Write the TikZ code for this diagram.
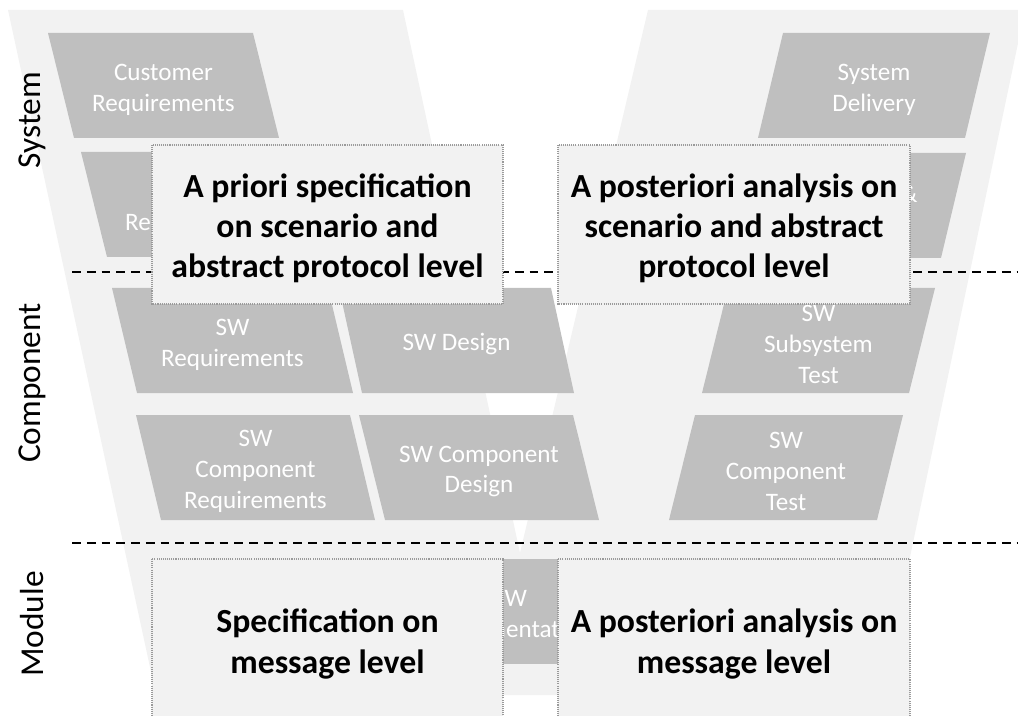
\documentclass[tikz,border=0pt]{standalone}
\usepackage{fontspec}
\setmainfont{Carlito}

\definecolor{vgray}{HTML}{F2F2F2}
\definecolor{boxgray}{HTML}{BFBFBF}
\definecolor{edgegray}{HTML}{9A9A9A}

\tikzset{
  steptext/.style={text=white, font=\fontsize{14.3}{17.6}\selectfont, align=center, inner sep=0pt},
  notebox/.style={fill=vgray, draw=edgegray, line width=0.6pt, dash pattern=on 0.6pt off 0.6pt},
  notetext/.style={font=\fontsize{19.2}{22.8}\selectfont\bfseries, align=center, inner sep=0pt},
  levellabel/.style={font=\fontsize{19}{22}\selectfont, rotate=90, inner sep=0pt},
  levelline/.style={line width=0.6pt, dash pattern=on 5pt off 3.4pt},
}

\begin{document}
\begin{tikzpicture}[x=0.02cm, y=-0.02cm]
    \useasboundingbox (0,0) rectangle (1018,716);
    \clip (0,0) rectangle (1018,716);

    % V background
    \fill[vgray] (8,10) -- (403,10) -- (520,553) -- (648,10) -- (1025,10)
        -- (881,695) -- (156,695) -- cycle;

    % Process steps
    \foreach \x/\y/\w/\s/\n/\t in {
        48/33/205/26/custreq/{Customer\\Requirements},
        81/152/205/26/sysreq/{System\\Requirements},
        112/288/216/25/swreq/{SW\\Requirements},
        339/288/212/23/swdes/{SW Design},
        136/415/214/25/compreq/{SW\\Component\\Requirements},
        359/415/214/26/compdes/{SW Component\\Design},
        410/559/200/0/impl/{SW\\Implementation},
        783/33/207/-25/sysdel/{System\\Delivery},
        759/153/207/-25/sysint/{Integration \&\\Test},
        728/288/207/-26/subtest/{SW\\Subsystem\\Test},
        695/415/208/-26/comptest/{SW\\Component\\Test}} {
        \fill[boxgray] (\x,\y) -- ++(\w,0) -- ++(\s,105) -- ++(-\w,0) -- cycle;
        \node[steptext] (\n) at (\x+\w/2+\s/2, \y+56.5) {\t};
    }

    % Level separators
    \draw[levelline] (72,272) -- (1018,272);
    \draw[levelline] (72,543) -- (1018,543);

    % Level labels
    \node[levellabel] (system) at (32,120) {System};
    \node[levellabel] (component) at (32,383) {Component};
    \node[levellabel] (module) at (32,624) {Module};

    % Analysis boxes
    \foreach \x/\y/\w/\h/\n/\t in {
        152/145/351/159/apriori/{A priori specification\\on scenario and\\abstract protocol level},
        558/145/352/159/aposteriori/{A posteriori analysis on\\scenario and abstract\\protocol level},
        152/559/351/162/msgspec/{Specification on\\message level},
        558/559/352/162/msganalysis/{A posteriori analysis on\\message level}} {
        \draw[notebox] (\x,\y) rectangle ++(\w,\h);
        \node[notetext] (\n) at (\x+\w/2, \y+\h/2+4) {\t};
    }
\end{tikzpicture}
\end{document}
